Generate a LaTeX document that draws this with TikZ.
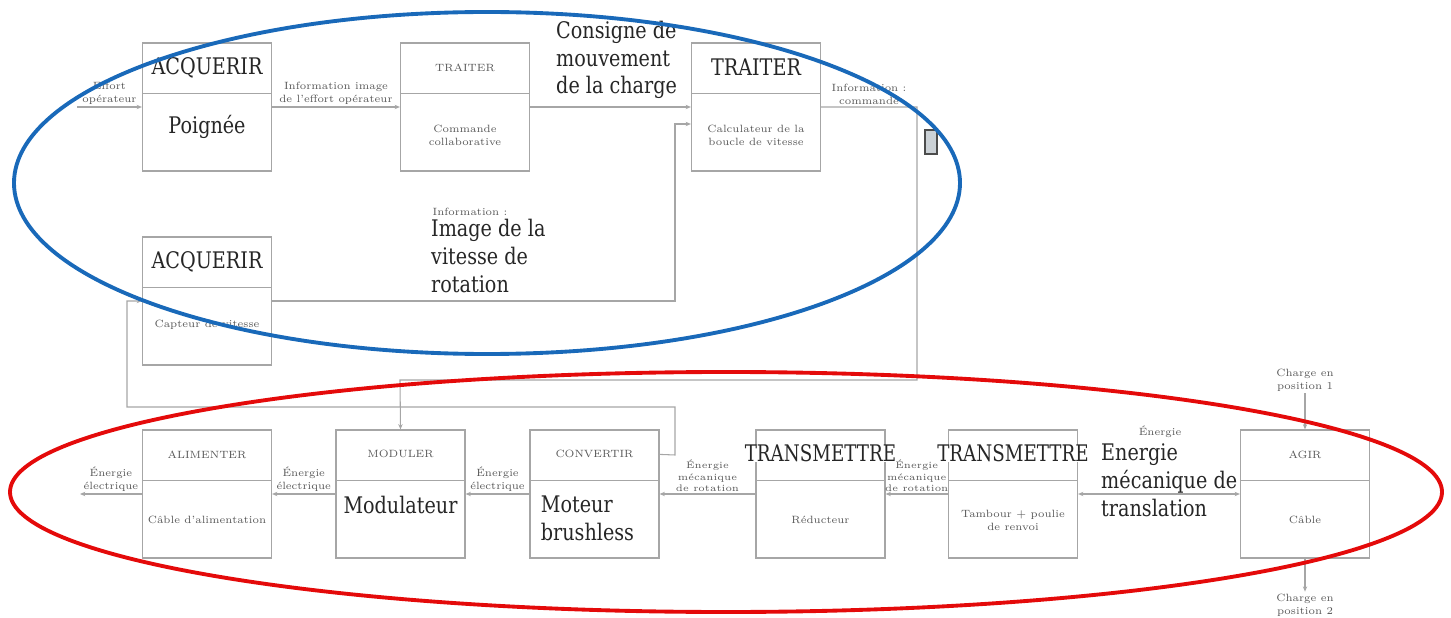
\documentclass[tikz,border=0pt]{standalone}
\usepackage{fontspec}
\newfontfamily\grand[FakeStretch=0.84]{DejaVu Serif}
\newfontfamily\grandtr[FakeStretch=0.8]{DejaVu Serif}
\usetikzlibrary{arrows.meta,positioning,calc}
\definecolor{bleu}{RGB}{25,105,185}
\definecolor{rouge}{RGB}{228,10,10}

\begin{document}
\begin{tikzpicture}[x=0.02cm,y=-0.02cm,
  bloc/.style={draw=gray!70,line width=0.7pt,minimum width=2.58cm,minimum height=2.56cm,inner sep=0pt},
  petit/.style={font=\fontsize{6}{7.4}\selectfont,text=black!65,align=center,inner sep=1pt},
  minus/.style={petit,font=\fontsize{5.4}{6.6}\selectfont},
  gros/.style={font=\grand\fontsize{13}{15.8}\selectfont,text=black!85,align=left,inner sep=0.5pt,fill=white},
  grostr/.style={gros,font=\grandtr\fontsize{13}{15.8}\selectfont,inner sep=0pt},
  lien/.style={draw=gray!70,line width=0.6pt,-{Stealth[length=3pt,width=2.5pt]}},
  lien2/.style={draw=gray!70,line width=0.6pt,{Stealth[length=3pt,width=2.5pt]}-{Stealth[length=3pt,width=2.5pt]}}]
\useasboundingbox (0,0) rectangle (1451,618);
% bloc : nom, centre, style haut, texte haut, style bas, texte bas, decalage bas
\def\bloc#1#2#3#4#5#6#7{%
  \node[bloc] (#1) at #2 {};
  \draw[gray!70,line width=0.6pt] ($(#1.north west)+(0,51)$) -- ($(#1.north east)+(0,51)$);
  \node[#3] (#1-f) at ($(#1.north)+(0,25)$) {#4};
  \node[#5] (#1-s) at ($(#1.center)+(0,#7)$) {#6};}

% chaine d'information
\bloc{acq1}{(207,107)}{gros}{ACQUERIR}{gros}{Poignée}{20}
\bloc{trt1}{(465,107)}{petit}{TRAITER}{petit}{Commande\\collaborative}{28}
\bloc{trt2}{(756,107)}{gros}{TRAITER}{petit}{Calculateur de la\\boucle de vitesse}{28}
\bloc{acq2}{(207,301)}{gros}{ACQUERIR}{petit}{Capteur de vitesse}{24}

% chaine d'energie
\bloc{ali}{(207,494)}{petit}{ALIMENTER}{petit}{Câble d'alimentation}{26}
\bloc{mod}{(400.5,494)}{petit}{MODULER}{gros}{Modulateur}{11}
\bloc{conv}{(594.5,494)}{petit}{CONVERTIR}{gros,xshift=-4pt}{Moteur\\brushless}{24}
\bloc{tr1}{(820.5,494)}{petit}{}{petit}{Réducteur}{26}
\bloc{tr2}{(1013,494)}{petit}{}{petit}{Tambour + poulie\\de renvoi}{26}
\bloc{agir}{(1305,494)}{petit}{AGIR}{petit}{Câble}{26}

\coordinate (effort) at (77,107);
\coordinate (cmd) at (917,107);
\coordinate (cmd2) at (400,380);
\coordinate (vit) at (675,124);
\coordinate (r1) at (675,455);
\coordinate (r2) at (127,407);
\coordinate (source) at (80,494);

\draw[lien] (effort) -- node[petit,above] {Effort\\opérateur} (acq1.west);
\draw[lien] (acq1.east) -- node[petit,above] {Information image\\de l'effort opérateur} (trt1.west);
\draw[lien] (trt1.east) -- (trt2.west);
\node[gros,anchor=west] (consigne) at (555,60) {Consigne de\\mouvement\\de la charge};
\draw[lien] (trt2.east) -- node[petit,above] {Information :\\commande} (cmd) |- (cmd2) -- (mod.north);
\draw[lien] (acq2.east) -| (vit) -- ($(trt2.west)+(0,17)$);
\node[petit] (info) at (470,212) {Information :};
\node[gros,anchor=west] (image) at (430,256) {Image de la\\vitesse de\\rotation};
\draw[lien] ($(conv.north east)+(0,25)$) -- (r1) |- (r2) |- (acq2.west);

\draw[lien] (ali.west) -- node[petit,above] {Énergie\\électrique} (source);
\draw[lien] (mod.west) -- node[petit,above] {Énergie\\électrique} (ali.east);
\draw[lien] (conv.west) -- node[petit,above] {Énergie\\électrique} (mod.east);
\draw[lien] (tr1.west) -- node[minus,above] {Énergie\\mécanique\\de rotation} (conv.east);
\draw[lien] (tr2.west) -- node[minus,above] {Énergie\\mécanique\\de rotation} (tr1.east);
\node[grostr] (tr1-g) at ($(tr1.north)+(0,24)$) {TRANSMETTRE};
\node[grostr] (tr2-g) at ($(tr2.north)+(0,24)$) {TRANSMETTRE};
\draw[lien2] (tr2.east) -- (agir.west);
\node[petit] (energie) at (1160,432) {Énergie};
\node[gros,anchor=west,fill=none] (transl) at (1100,480) {Energie\\mécanique de\\translation};

\node[petit] (pos1) at (1305,380) {Charge en\\position 1};
\node[petit] (pos2) at (1305,605) {Charge en\\position 2};
\draw[lien] (pos1) -- (agir.north);
\draw[lien] (agir.south) -- (pos2);

\draw[fill=bleu!20!gray!35,draw=gray!60!black,line width=0.6pt] (925,130) rectangle (937,154);

% les deux ellipses
\draw[bleu,line width=2.2pt] (487,183) ellipse [x radius=473,y radius=171];
\draw[rouge,line width=2.2pt] (726,492) ellipse [x radius=716,y radius=120];
\end{tikzpicture}
\end{document}
